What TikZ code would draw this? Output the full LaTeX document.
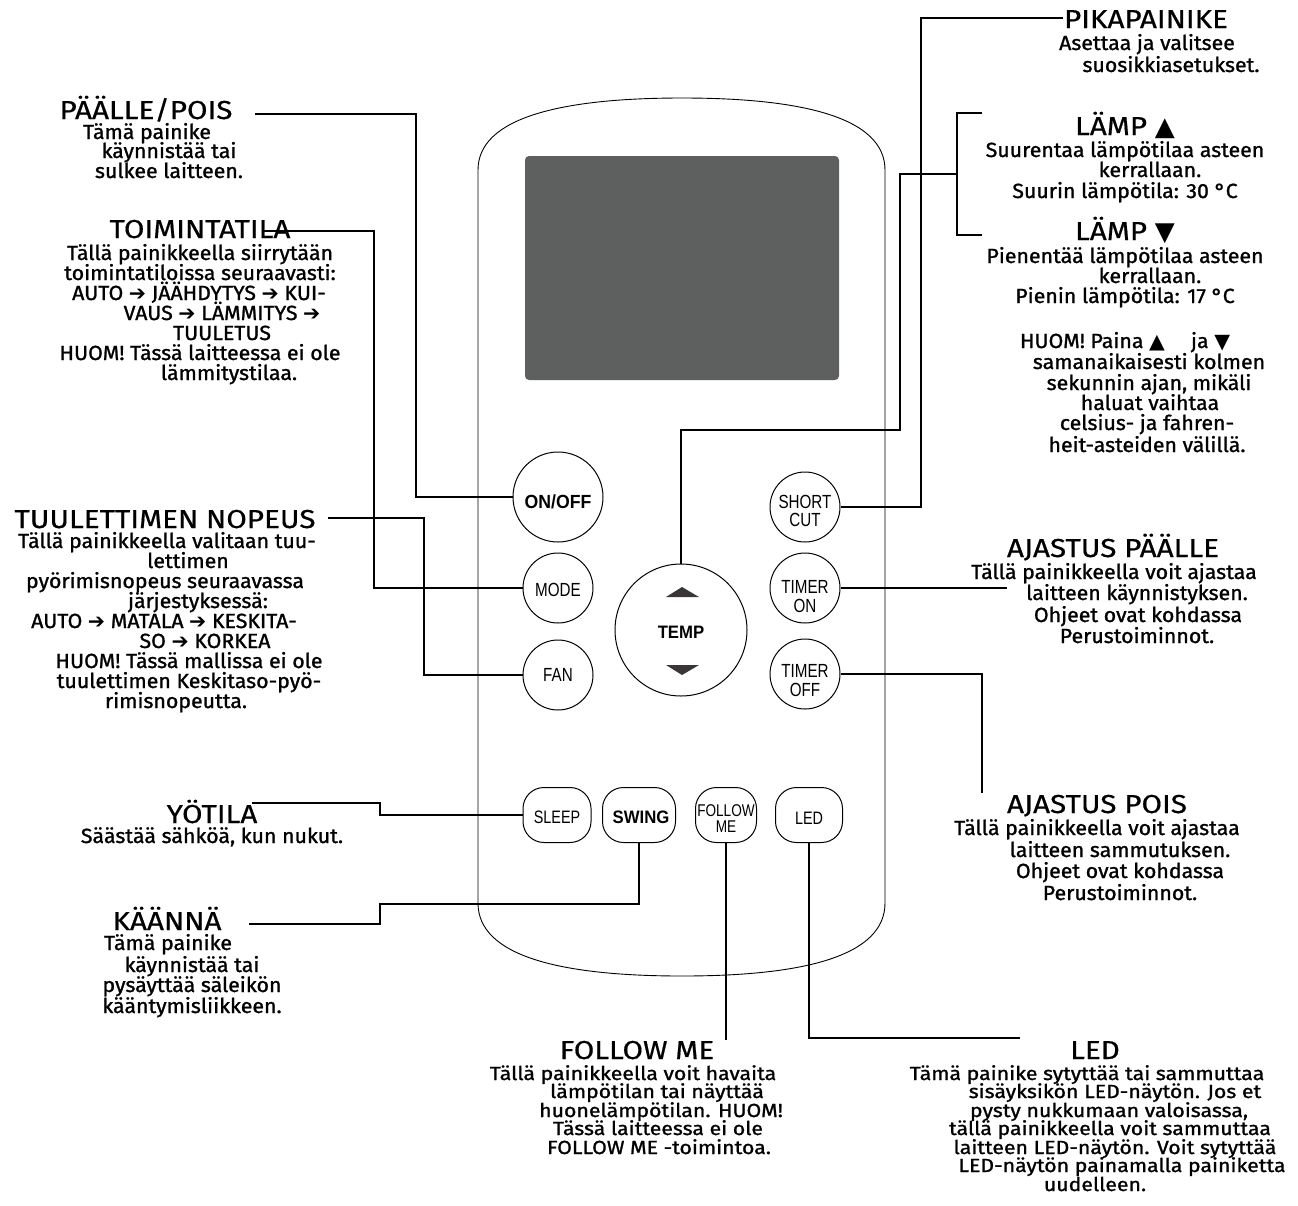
\documentclass[tikz,border=0pt]{standalone}
\usepackage{fontspec}
\setmainfont{Fira Sans}
\newfontfamily\ttlfont[FakeStretch=1.14,FakeBold=0.6]{Fira Sans}
\newfontfamily\bdfont[FakeStretch=1.04,FakeBold=1.2]{Fira Sans}
\newfontfamily\bdsfont[FakeStretch=1.12,FakeBold=1.2]{Fira Sans}
\newfontfamily\symf{DejaVu Sans}
\newfontfamily\btnf[FakeStretch=0.8]{Liberation Sans}
\newfontfamily\btnb[FakeStretch=0.93]{Liberation Sans}
\newcommand{\arr}{{\symf\char"2794}}
\newcommand{\upt}{{\symf\char"25B2}}
\newcommand{\dnt}{{\symf\char"25BC}}
\newcommand{\TL}[4]{\node[ttl] (#1) at (#2,#3) {#4};}
\newcommand{\BL}[4]{\node[bdl] (#1) at (#2,#3) {#4};}
\newcommand{\SL}[4]{\node[bds] (#1) at (#2,#3) {#4};}
\definecolor{scr}{HTML}{5E605F}
\definecolor{tri}{HTML}{3B3636}
\tikzset{
  ttl/.style={anchor=base, inner sep=0pt, font=\ttlfont\fontsize{26}{26}\selectfont},
  bdl/.style={anchor=base, inner sep=0pt, font=\bdfont\fontsize{20.5}{20}\selectfont},
  bds/.style={anchor=base, inner sep=0pt, font=\bdsfont\fontsize{19}{19}\selectfont},
  ln/.style={line width=1.1pt, black},
  rbtn/.style={circle, draw, line width=1pt, inner sep=0pt},
  pill/.style={rectangle, rounded corners=21pt, draw, line width=1pt, inner sep=0pt, minimum height=55},
  blab/.style={anchor=base, inner sep=0pt, font=\btnf\fontsize{19}{19}\selectfont},
  blabs/.style={anchor=base, inner sep=0pt, font=\btnf\fontsize{18}{18}\selectfont},
  blabb/.style={anchor=base, inner sep=0pt, font=\btnb\bfseries\fontsize{19}{19}\selectfont},
}
\begin{document}
\begin{tikzpicture}[x=1pt,y=-1pt]
\useasboundingbox (0,0) rectangle (1298,1205);
% remote body
\draw[line width=0.9pt] (478,903) -- (478,170) .. controls (478,118) and (560,98) .. (682,98)
  .. controls (804,98) and (885,118) .. (885,170) -- (885,903)
  .. controls (885,956) and (804,976) .. (682,976)
  .. controls (560,976) and (478,956) .. (478,903) -- cycle;
\fill[scr, rounded corners=4pt] (525,156) rectangle (839,380);

% buttons
\node[rbtn, minimum size=90] (onoff) at (558,497) {};
\node[blabb] (onoffL) at (558,508) {ON/OFF};
\node[rbtn, minimum size=70] (mode) at (558,588) {};
\node[blab] (modeL) at (558,596) {MODE};
\node[rbtn, minimum size=70] (fan) at (558,675) {};
\node[blab] (fanL) at (558,681) {FAN};
\node[rbtn, minimum size=132] (temp) at (681,630) {};
\node[blabb, font=\btnb\bfseries\fontsize{18}{18}\selectfont] (tempL) at (681,638) {TEMP};
\fill[tri] (666,597) -- (682,587) -- (699,597) -- cycle;
\fill[tri] (666,665) -- (682,675) -- (699,665) -- cycle;
\node[rbtn, minimum size=70] (sc) at (805,507) {};
\node[blab] (scL1) at (805,508) {SHORT};
\node[blab] (scL2) at (805,526) {CUT};
\node[rbtn, minimum size=70] (ton) at (805,588) {};
\node[blab] (tonL1) at (805,593) {TIMER};
\node[blab] (tonL2) at (805,612) {ON};
\node[rbtn, minimum size=70] (toff) at (805,674) {};
\node[blab] (toffL1) at (805,677) {TIMER};
\node[blab] (toffL2) at (805,696) {OFF};
\node[pill, minimum width=68] (sleep) at (557,815) {};
\node[blabs] (sleepL) at (557,823) {SLEEP};
\node[pill, minimum width=73] (swing) at (639,815) {};
\node[blabb, font=\btnb\bfseries\fontsize{18}{18}\selectfont] (swingL) at (641,823) {SWING};
\node[pill, minimum width=61] (follow) at (726,815) {};
\node[blabs, font=\btnf\fontsize{17}{17}\selectfont] (followL1) at (726,816) {FOLLOW};
\node[blabs, font=\btnf\fontsize{17}{17}\selectfont] (followL2) at (726,832) {ME};
\node[pill, minimum width=67] (led) at (809,815) {};
\node[blabs] (ledL) at (809,824) {LED};

% free ends of connectors
\coordinate (c-pp) at (255,114);
\coordinate (c-toim) at (262,231);
\coordinate (c-tuu) at (328,518);
\coordinate (c-yo) at (252,803);
\coordinate (c-kaa) at (249,924);
\coordinate (c-fol) at (726,1040);
\coordinate (c-led) at (1020,1038);
\coordinate (c-toff) at (982,793);
\coordinate (c-ton) at (1007,588);
\coordinate (c-pika) at (1063,18);
\coordinate (c-temp) at (957,174);
\coordinate (c-lup) at (982,113);
\coordinate (c-ldn) at (982,235);

% connectors
\draw[ln] (c-pp) -- (416,114) |- (onoff.west);
\draw[ln] (c-toim) -- (374,231) |- (mode.west);
\draw[ln] (c-tuu) -- (424,518) |- (fan.west);
\draw[ln] (c-yo) -- (380,803) |- (sleep.west);
\draw[ln] (c-kaa) -- (380,924) -- (380,904) -| (swing.south);
\draw[ln] (follow.south) -- (c-fol);
\draw[ln] (led.south) |- (c-led);
\draw[ln] (toff.east) -| (c-toff);
\draw[ln] (ton.east) -- (c-ton);
\draw[ln] (sc.east) -| (921,18) -- (c-pika);
\draw[ln] (temp.north) |- (900,430) |- (c-temp);
\draw[ln] (c-lup) -- (957,113) -- (957,235) -- (c-ldn);

% PÄÄLLE/POIS
\TL{t1}{146}{119}{PÄÄLLE/POIS}
\BL{b1a}{147}{139}{Tämä painike}
\BL{b1b}{169}{158}{käynnistää tai}
\BL{b1c}{169}{178}{sulkee laitteen.}
% TOIMINTATILA
\TL{t2}{200}{238}{TOIMINTATILA}
\BL{b2a}{200}{260}{Tällä painikkeella siirrytään}
\BL{b2b}{200}{280}{toimintatiloissa seuraavasti:}
\BL{b2c}{199}{300}{AUTO \arr{} JÄÄHDYTYS \arr{} KUI-}
\BL{b2d}{222}{320}{VAUS \arr{} LÄMMITYS \arr}
\BL{b2e}{222}{340}{TUULETUS}
\BL{b2f}{200}{360}{HUOM! Tässä laitteessa ei ole}
\BL{b2g}{229}{380}{lämmitystilaa.}
% TUULETTIMEN NOPEUS
\TL{t3}{165}{528}{TUULETTIMEN NOPEUS}
\BL{b3a}{167}{548}{Tällä painikkeella valitaan tuu-}
\BL{b3b}{188}{568}{lettimen}
\BL{b3c}{165}{588}{pyörimisnopeus seuraavassa}
\BL{b3d}{198}{608}{järjestyksessä:}
\BL{b3e}{164}{628}{AUTO \arr{} MATALA \arr{} KESKITA-}
\BL{b3f}{205}{648}{SO \arr{} KORKEA}
\BL{b3g}{189}{668}{HUOM! Tässä mallissa ei ole}
\BL{b3h}{189}{688}{tuulettimen Keskitaso-pyö-}
\BL{b3i}{176}{708}{rimisnopeutta.}
% PIKAPAINIKE
\TL{t4}{1146}{28}{PIKAPAINIKE}
\BL{b4a}{1147}{50}{Asettaa ja valitsee}
\BL{b4b}{1171}{72}{suosikkiasetukset.}
% LÄMP up
\TL{t5}{1125}{135}{LÄMP \upt}
\BL{b5a}{1125}{157}{Suurentaa lämpötilaa asteen}
\BL{b5b}{1150}{177}{kerrallaan.}
\BL{b5c}{1125}{198}{Suurin lämpötila: 30 °C}
% LÄMP down
\TL{t6}{1125}{240}{LÄMP \dnt}
\BL{b6a}{1125}{263}{Pienentää lämpötilaa asteen}
\BL{b6b}{1150}{283}{kerrallaan.}
\BL{b6c}{1125}{303}{Pienin lämpötila: 17 °C}
% HUOM
\BL{b7a}{1125}{348}{HUOM! Paina \upt\hspace{1em} ja \dnt}
\BL{b7b}{1149}{369}{samanaikaisesti kolmen}
\BL{b7c}{1149}{390}{sekunnin ajan, mikäli}
\BL{b7d}{1150}{410}{haluat vaihtaa}
\BL{b7e}{1147}{430}{celsius- ja fahren-}
\BL{b7f}{1147}{452}{heit-asteiden välillä.}
% AJASTUS PÄÄLLE
\TL{t8}{1113}{557}{AJASTUS PÄÄLLE}
\BL{b8a}{1114}{579}{Tällä painikkeella voit ajastaa}
\BL{b8b}{1137}{600}{laitteen käynnistyksen.}
\BL{b8c}{1138}{622}{Ohjeet ovat kohdassa}
\BL{b8d}{1137}{643}{Perustoiminnot.}
% AJASTUS POIS
\TL{t9}{1097}{813}{AJASTUS POIS}
\BL{b9a}{1097}{835}{Tällä painikkeella voit ajastaa}
\BL{b9b}{1120}{857}{laitteen sammutuksen.}
\BL{b9c}{1120}{878}{Ohjeet ovat kohdassa}
\BL{b9d}{1120}{900}{Perustoiminnot.}
% YÖTILA
\TL{t10}{212}{823}{YÖTILA}
\BL{b10a}{212}{843}{Säästää sähköä, kun nukut.}
% KÄÄNNÄ
\TL{t11}{167}{930}{KÄÄNNÄ}
\BL{b11a}{168}{950}{Tämä painike}
\BL{b11b}{192}{972}{käynnistää tai}
\BL{b11c}{192}{992}{pysäyttää säleikön}
\BL{b11d}{192}{1013}{kääntymisliikkeen.}
% FOLLOW ME
\TL{t12}{637}{1059}{FOLLOW ME}
\SL{b12a}{633}{1080}{Tällä painikkeella voit havaita}
\SL{b12b}{657}{1098}{lämpötilan tai näyttää}
\SL{b12c}{661}{1117}{huonelämpötilan. HUOM!}
\SL{b12d}{658}{1135}{Tässä laitteessa ei ole}
\SL{b12e}{659}{1154}{FOLLOW ME -toimintoa.}
% LED
\TL{t13}{1095}{1059}{LED}
\SL{b13a}{1087}{1080}{Tämä painike sytyttää tai sammuttaa}
\SL{b13b}{1115}{1098}{sisäyksikön LED-näytön. Jos et}
\SL{b13c}{1109}{1117}{pysty nukkumaan valoisassa,}
\SL{b13d}{1110}{1135}{tällä painikkeella voit sammuttaa}
\SL{b13e}{1115}{1154}{laitteen LED-näytön. Voit sytyttää}
\SL{b13f}{1122}{1172}{LED-näytön painamalla painiketta}
\SL{b13g}{1095}{1191}{uudelleen.}
\end{tikzpicture}
\end{document}
